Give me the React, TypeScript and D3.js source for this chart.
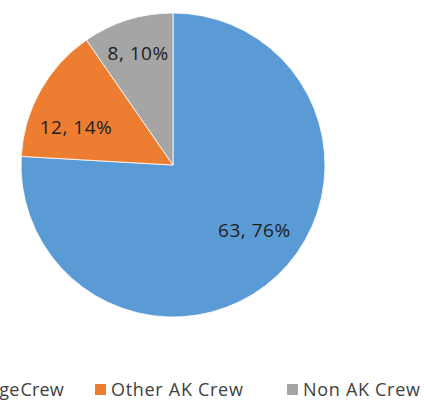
import React from "react";
import * as d3 from "d3";

const categories = ["Village Crew", "Other AK Crew", "Non AK Crew"];
const values = [63, 12, 8];
const colors = ["#5B9BD5", "#ED7D31", "#A5A5A5"];

const W = 424;
const H = 401;

export default function App() {
  const cx = 173;
  const cy = 165;
  const r = 152;
  const total = d3.sum(values);
  const data = categories.map((c, i) => ({ c, v: values[i], color: colors[i] }));
  const pie = d3.pie<any>().value((d) => d.v).sort(null);
  const arcs = pie(data);
  const arc = d3.arc<any>().innerRadius(0).outerRadius(r);

  const labelPos = (a: any) => {
    const span = a.endAngle - a.startAngle;
    const narrow = span < 0.7;
    const ang = (a.startAngle + a.endAngle) / 2 - (narrow ? 0 : 0.14);
    const lr = r * (narrow ? 0.77 : 0.685);
    return [lr * Math.sin(ang), -lr * Math.cos(ang)];
  };

  const legendX = [64, 95, 287];
  return (
    <svg width={W} height={H} style={{ position: "absolute", left: 0, top: 0, background: "#fff" }}>
      <g transform={`translate(${cx},${cy})`}>
        {arcs.map((a, i) => (
          <path key={i} d={arc(a) as string} fill={a.data.color} stroke="#fff" strokeWidth={0.8} />
        ))}
        {arcs.map((a, i) => {
          const [x, y] = labelPos(a);
          return (
            <text
              key={i}
              x={x}
              y={y}
              dy="0.36em"
              textAnchor="middle"
              fontFamily="'Open Sans', sans-serif"
              fontSize={19}
              letterSpacing={0.5}
              fill="#1e1e1e"
            >
              {`${a.data.v}, ${Math.round((a.data.v / total) * 100)}%`}
            </text>
          );
        })}
      </g>
      <g fontFamily="'Open Sans', sans-serif" fontSize={18} letterSpacing={0.7} fill="#404040">
        <text x={legendX[0]} y={396} textAnchor="end" letterSpacing={0.2} wordSpacing={-4}>
          {categories[0]}
        </text>
        {[1, 2].map((i) => (
          <g key={i}>
            <rect x={legendX[i]} y={384} width={11} height={11} fill={colors[i]} />
            <text x={legendX[i] + 16} y={396}>{categories[i]}</text>
          </g>
        ))}
      </g>
    </svg>
  );
}
